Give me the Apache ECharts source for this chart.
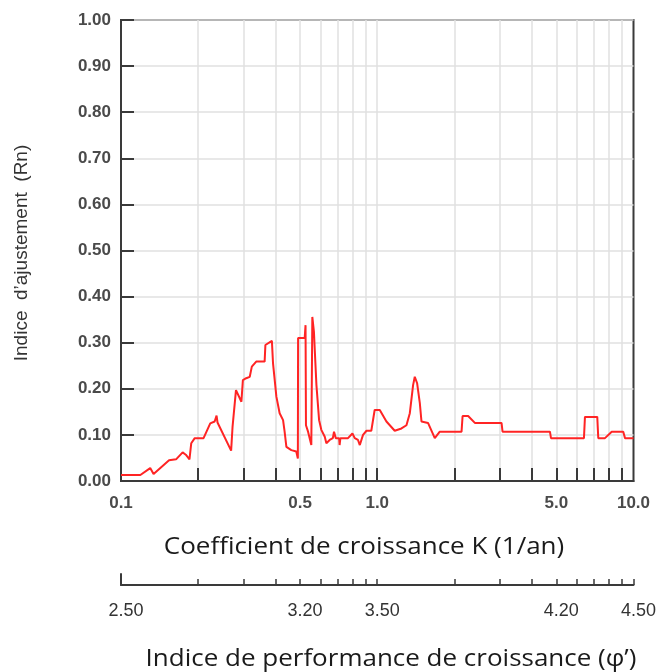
<!DOCTYPE html>
<html><head><meta charset="utf-8">
<script src="https://cdn.jsdelivr.net/npm/echarts@6/dist/echarts.min.js"></script>
<style>html,body{margin:0;padding:0;background:#fff}#c{width:658px;height:672px}</style>
</head><body><div id="c"></div>
<script>
// Growth coefficient K (1/an) and goodness-of-fit index Rn
const kValues = [0.100,0.119,0.130,0.134,0.154,0.164,0.174,0.179,0.185,0.188,0.194,0.210,0.223,0.232,0.236,0.238,0.269,0.2725,0.281,0.295,0.299,0.308,0.318,0.324,0.337,0.3635,0.366,0.388,0.392,0.404,0.416,0.429,0.435,0.442,0.462,0.483,0.490,0.491,0.521,0.525,0.527,0.537,0.553,0.558,0.566,0.579,0.593,0.605,0.624,0.633,0.652,0.671,0.678,0.689,0.710,0.713,0.718,0.769,0.800,0.817,0.841,0.855,0.880,0.908,0.948,0.977,1.023,1.086,1.170,1.243,1.300,1.340,1.380,1.401,1.431,1.466,1.488,1.578,1.677,1.754,2.133,2.153,2.263,2.404,3.055,3.083,4.72,4.764,6.407,6.465,7.221,7.287,7.739,8.222,9.120,9.265,10.0];
const rnValues = [0.013,0.013,0.028,0.015,0.045,0.047,0.062,0.057,0.047,0.082,0.093,0.093,0.125,0.129,0.142,0.127,0.066,0.118,0.197,0.172,0.219,0.223,0.226,0.248,0.259,0.259,0.295,0.304,0.255,0.183,0.147,0.132,0.107,0.074,0.067,0.064,0.049,0.310,0.310,0.338,0.121,0.107,0.078,0.356,0.324,0.208,0.132,0.111,0.096,0.082,0.089,0.093,0.107,0.093,0.093,0.078,0.093,0.093,0.103,0.093,0.089,0.078,0.100,0.109,0.109,0.154,0.154,0.129,0.109,0.114,0.121,0.147,0.208,0.226,0.212,0.169,0.129,0.126,0.093,0.107,0.107,0.141,0.141,0.126,0.126,0.107,0.107,0.093,0.093,0.139,0.139,0.093,0.093,0.107,0.107,0.093,0.093];

const kLabelValues = [0.1, 0.5, 1, 5, 10];
const kTickLabels = ['0.1', '0.5', '1.0', '5.0', '10.0'];
const phiTickLabels = ['2.50', '3.20', '3.50', '4.20', '4.50'];
const kTickValues = [0.2,0.3,0.4,0.5,0.6,0.7,0.8,0.9,1,2,3,4,5,6,7,8,9];
const rnTickValues = [0,0.1,0.2,0.3,0.4,0.5,0.6,0.7,0.8,0.9,1.0];
const rnTickLabels = ['0.00','0.10','0.20','0.30','0.40','0.50','0.60','0.70','0.80','0.90','1.00'];

function labelFor(v, labels) {
  const i = kLabelValues.findIndex(x => Math.abs(Math.log10(x) - Math.log10(v)) < 1e-6);
  return i >= 0 ? labels[i] : '';
}

const chart = echarts.init(document.getElementById('c'), null, {renderer: 'canvas'});
const axisColor = '#3a3a3a';
const option = {
  animation: false,
  backgroundColor: '#ffffff',
  grid: [
    {left: 121, right: 24.5, top: 20, bottom: 191, show: true, borderColor: axisColor, borderWidth: 2, backgroundColor: 'transparent', outerBoundsMode: 'none', containLabel: false},
    {left: 121, right: 24.5, top: 574, height: 11, show: false, outerBoundsMode: 'none', containLabel: false}
  ],
  xAxis: [
    {
      type: 'log', logBase: 10, min: 0.1, max: 10, gridIndex: 0,
      axisLine: {show: true, lineStyle: {color: axisColor, width: 2}},
      axisTick: {show: true, inside: true, length: 13, customValues: kTickValues, lineStyle: {color: axisColor, width: 2}},
      axisLabel: {show: true, customValues: kLabelValues, margin: 14, color: '#4a4a4a', fontFamily: 'Liberation Sans, Arial', fontWeight: 'bold', fontSize: 17,
        formatter: v => labelFor(v, kTickLabels)},
      splitLine: {show: true, lineStyle: {color: '#e0e0e0', width: 1.5}},
      minorTick: {show: false}, minorSplitLine: {show: false}
    },
    {
      type: 'log', logBase: 10, min: 0.1, max: 10, gridIndex: 1, position: 'bottom',
      axisLine: {show: true, lineStyle: {color: axisColor, width: 2}},
      axisTick: {show: true, inside: true, length: 6, customValues: kTickValues.concat([10]), lineStyle: {color: axisColor, width: 1.5}},
      axisLabel: {show: true, customValues: kLabelValues, margin: 17, padding: [0, 0, 0, 10], color: '#333', fontFamily: 'Liberation Sans, Arial', fontSize: 18,
        formatter: v => labelFor(v, phiTickLabels)},
      splitLine: {show: false}
    }
  ],
  yAxis: [
    {
      type: 'value', min: 0, max: 1, interval: 0.1, gridIndex: 0,
      axisLine: {show: true, lineStyle: {color: axisColor, width: 2}},
      axisTick: {show: true, inside: true, length: 13, lineStyle: {color: axisColor, width: 2}},
      axisLabel: {show: true, margin: 10, color: '#4a4a4a', fontFamily: 'Liberation Sans, Arial', fontWeight: 'bold', fontSize: 17,
        formatter: v => { const i = rnTickValues.findIndex(x => Math.abs(x - v) < 1e-6); return i >= 0 ? rnTickLabels[i] : ''; }},
      splitLine: {show: true, lineStyle: {color: '#e0e0e0', width: 1.5}}
    },
    {
      type: 'value', min: 0, max: 1, gridIndex: 1,
      axisLine: {show: true, lineStyle: {color: axisColor, width: 2}},
      axisTick: {show: false}, axisLabel: {show: false}, splitLine: {show: false}
    }
  ],
  series: [{
    type: 'line', xAxisIndex: 0, yAxisIndex: 0,
    data: kValues.map((k, i) => [k, rnValues[i]]),
    symbol: 'none', silent: true,
    lineStyle: {color: '#ff2424', width: 2}
  }],
  graphic: [
    {type: 'text', x: 364, y: 547, scaleX: 1.13, style: {text: 'Coefficient de croissance K (1/an)', fontFamily: 'Open Sans', fontSize: 23, fill: '#1a1a1a', align: 'center', verticalAlign: 'middle'}},
    {type: 'text', x: 391, y: 659, scaleX: 1.13, style: {text: 'Indice de performance de croissance (φ’)', fontFamily: 'Open Sans', fontSize: 23, fill: '#1a1a1a', align: 'center', verticalAlign: 'middle'}},
    {type: 'text', x: 22, y: 253, rotation: Math.PI / 2, style: {text: 'Indice  d’ajustement  (Rn)', fontFamily: 'Liberation Sans, Arial', fontSize: 19, fill: '#333', align: 'center', verticalAlign: 'middle'}}
  ]
};
chart.setOption(option);
</script>
</body></html>
